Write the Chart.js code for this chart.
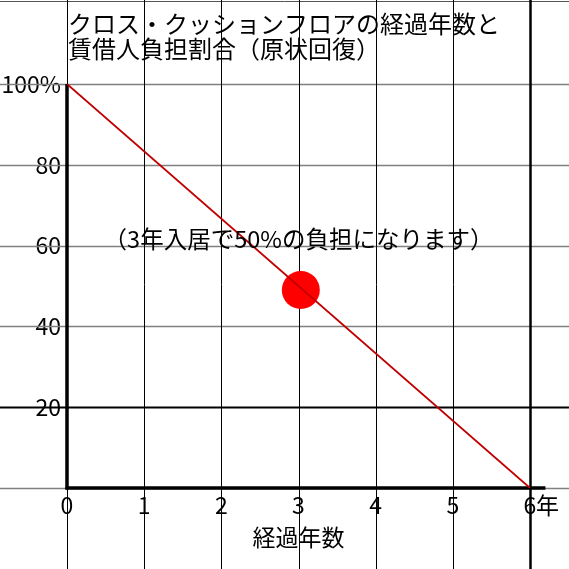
<!DOCTYPE html>
<html>
<head>
<meta charset="utf-8">
<style>
  html, body { margin: 0; padding: 0; background: #ffffff; }
  canvas { display: block; }
</style>
<script src="https://cdn.jsdelivr.net/npm/chart.js@4/dist/chart.umd.min.js"></script>
</head>
<body>
<canvas id="c" width="569" height="569"></canvas>
<script>
// ---- data ----
const titleLines = ['クロス・クッションフロアの経過年数と', '賃借人負担割合（原状回復）'];
const xTicks = [0, 1, 2, 3, 4, 5, 6];
const yTicks = [0, 20, 40, 60, 80, 100];
const lineX = [0, 6];
const lineY = [100, 0];
const dotX = [3.03];
const dotY = [49];
const noteText = '（3年入居で50%の負担になります）';
const notePos = [3, 61.5];
const xUnit = '年';
const yUnit = '%';
const xTitle = '経過年数';
const xAxisEnd = 6.2;

const FONT = '"Noto Sans CJK JP", "Noto Sans", sans-serif';

const gridPlugin = {
  id: 'gridPlugin',
  beforeDatasetsDraw(chart) {
    const ctx = chart.ctx;
    const xs = chart.scales.x, ys = chart.scales.y;
    const W = chart.width, H = chart.height;
    ctx.save();
    ctx.strokeStyle = '#555555';
    ctx.lineWidth = 1;
    ctx.beginPath(); ctx.moveTo(0, 1.5); ctx.lineTo(W, 1.5); ctx.stroke();
    yTicks.forEach(v => {
      const y = Math.round(ys.getPixelForValue(v)) + 0.5;
      if (v === 20) { ctx.strokeStyle = '#000000'; ctx.lineWidth = 2; }
      else { ctx.strokeStyle = '#808080'; ctx.lineWidth = 1.5; }
      ctx.beginPath(); ctx.moveTo(0, y); ctx.lineTo(W, y); ctx.stroke();
    });
    xTicks.forEach((v, i) => {
      const x = Math.round(xs.getPixelForValue(v)) + 0.5;
      ctx.strokeStyle = '#000000';
      ctx.lineWidth = (i === xTicks.length - 1) ? 2.5 : 1;
      ctx.beginPath(); ctx.moveTo(x, 0); ctx.lineTo(x, H); ctx.stroke();
    });
    const x0 = xs.getPixelForValue(0);
    const y0 = ys.getPixelForValue(0);
    const yTop = ys.getPixelForValue(100);
    const xEnd = xs.getPixelForValue(xAxisEnd);
    ctx.strokeStyle = '#000000';
    ctx.lineWidth = 3.5;
    ctx.beginPath(); ctx.moveTo(x0, yTop); ctx.lineTo(x0, y0 + 1.5); ctx.stroke();
    ctx.beginPath(); ctx.moveTo(x0 - 1.5, y0); ctx.lineTo(xEnd, y0); ctx.stroke();
    ctx.restore();
  },
  afterDraw(chart) {
    const ctx = chart.ctx;
    const xs = chart.scales.x, ys = chart.scales.y;
    ctx.save();
    ctx.fillStyle = '#000000';
    ctx.font = '24px ' + FONT;
    ctx.textAlign = 'left';
    ctx.textBaseline = 'middle';
    titleLines.forEach((t, i) => ctx.fillText(t, chart.chartArea.left + 1, 24 + i * 25));
    ctx.font = '23.5px ' + FONT;
    ctx.textAlign = 'center';
    ctx.fillText(noteText, xs.getPixelForValue(notePos[0]), ys.getPixelForValue(notePos[1]));
    const lastX = xs.getPixelForValue(xTicks[xTicks.length - 1]);
    ctx.font = '23px ' + FONT;
    ctx.textAlign = 'left';
    ctx.fillText(xUnit, lastX + 6, ys.getPixelForValue(0) + 17);
    ctx.restore();
  }
};

new Chart(document.getElementById('c'), {
  type: 'scatter',
  data: {
    datasets: [
      {
        data: lineX.map((x, i) => ({ x: x, y: lineY[i] })),
        showLine: true,
        borderColor: '#c00000',
        borderWidth: 1.8,
        pointRadius: 0,
        fill: false
      },
      {
        data: dotX.map((x, i) => ({ x: x, y: dotY[i] })),
        pointRadius: 19,
        pointBackgroundColor: '#ff0000',
        pointBorderWidth: 0,
        pointBorderColor: '#ff0000'
      }
    ]
  },
  options: {
    responsive: false,
    animation: false,
    events: [],
    layout: { padding: { top: 84, right: 39, bottom: 0, left: 0 } },
    plugins: { legend: { display: false }, tooltip: { enabled: false }, title: { display: false } },
    scales: {
      x: {
        type: 'linear', min: 0, max: 6,
        afterFit(s) { s.height = 81; },
        afterBuildTicks(s) { s.ticks = xTicks.map(v => ({ value: v })); },
        grid: { display: false, drawTicks: false },
        border: { display: false },
        ticks: {
          padding: 3, color: '#000000', font: { family: FONT, size: 23 },
          maxRotation: 0, autoSkip: false,
          callback: v => String(v)
        },
        title: { display: true, text: xTitle, color: '#000000', font: { family: FONT, size: 23 }, padding: { top: 4, bottom: 18 } }
      },
      y: {
        type: 'linear', min: 0, max: 100,
        afterFit(s) { s.width = 67; },
        afterBuildTicks(s) { s.ticks = yTicks.map(v => ({ value: v })); },
        grid: { display: false, drawTicks: false },
        border: { display: false },
        ticks: {
          padding: 6, color: '#000000', font: { family: FONT, size: 23 },
          autoSkip: false,
          callback: v => (v === 100 ? v + yUnit : (v === 0 ? '' : String(v)))
        }
      }
    }
  },
  plugins: [gridPlugin]
});
</script>
</body>
</html>
